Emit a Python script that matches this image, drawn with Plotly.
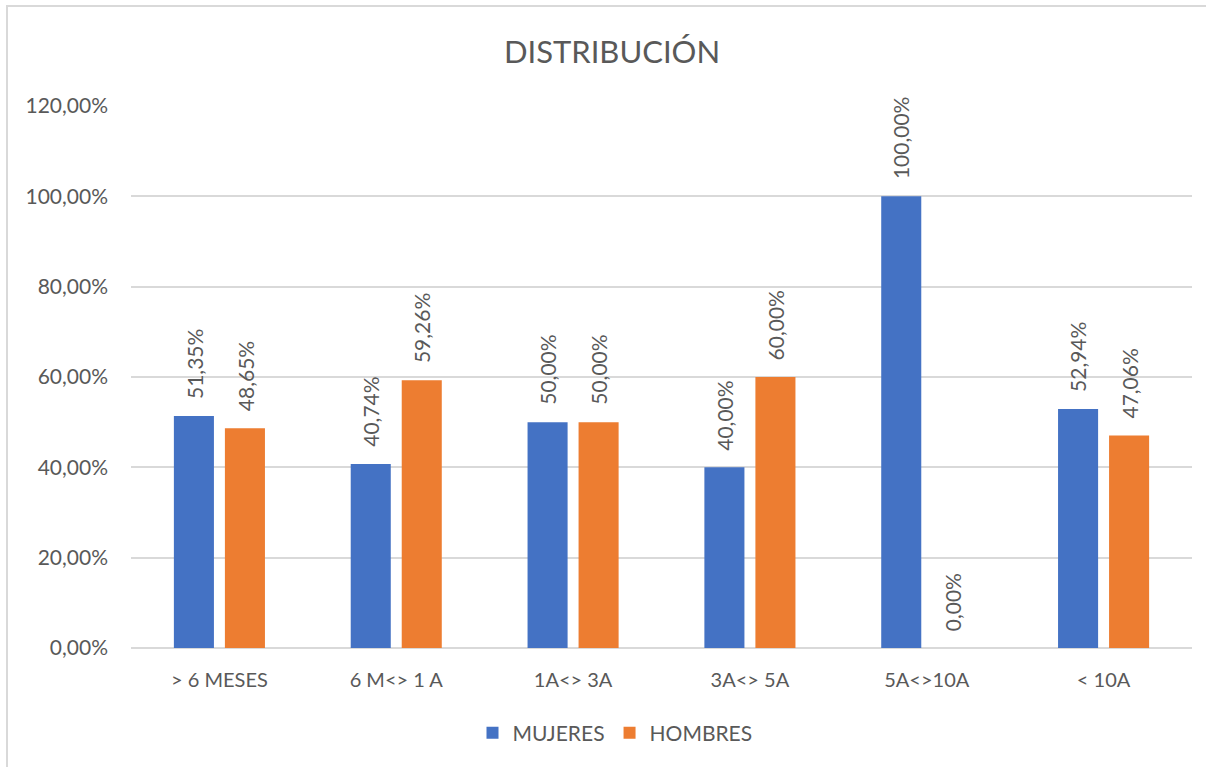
import plotly.graph_objects as go

categorias = ["> 6 MESES", "6 M<> 1 A", "1A<> 3A", "3A<> 5A", "5A<>10A", "< 10A"]
mujeres = [0.5135, 0.4074, 0.50, 0.40, 1.00, 0.5294]
hombres = [0.4865, 0.5926, 0.50, 0.60, 0.00, 0.4706]
ticks_y = [0, 0.2, 0.4, 0.6, 0.8, 1.0, 1.2]

AZUL = "#4472C4"
NARANJA = "#ED7D31"
GRIS = "#595959"
FUENTE = "Lato"

W, H = 1206, 767
ML, MR, MT, MB = 131, 14, 106, 119
PW, PH = W - ML - MR, H - MT - MB


def pct(v, dec=2):
    return f"{v * 100:.{dec}f}".replace(".", ",") + "%"


fig = go.Figure()
series = [("MUJERES", mujeres, AZUL, -25.5), ("HOMBRES", hombres, NARANJA, 25.5)]
for nombre, valores, color, desplaz in series:
    fig.add_trace(go.Bar(
        x=categorias, y=valores, name=nombre, marker_color=color,
        marker_line_width=0, cliponaxis=False,
    ))
    # vertical value labels above each bar
    for cat, v in zip(categorias, valores):
        fig.add_annotation(
            x=cat, y=v, xref="x", yref="y", text=pct(v), showarrow=False,
            textangle=-90, xanchor="center", yanchor="bottom",
            xshift=desplaz, yshift=15,
            font=dict(family=FUENTE, size=21, color=GRIS),
        )

fig.update_layout(
    width=W, height=H,
    margin=dict(l=ML, r=MR, t=MT, b=MB),
    paper_bgcolor="white", plot_bgcolor="white",
    barmode="group", bargap=0.423, bargroupgap=0.215,
    title=dict(text="DISTRIBUCIÓN", x=612 / W, xanchor="center",
               y=1 - 52 / H, yanchor="middle",
               font=dict(family=FUENTE, size=31, color=GRIS)),
    font=dict(family=FUENTE, size=21, color=GRIS),
    xaxis=dict(showline=False, ticks="", showgrid=False,
               ticklabelstandoff=18,
               tickfont=dict(family=FUENTE, size=20, color=GRIS)),
    yaxis=dict(range=[0, 1.2], tickvals=ticks_y,
               ticktext=[pct(v) for v in ticks_y],
               showgrid=True, gridcolor="#D9D9D9", gridwidth=1.5,
               zeroline=True, zerolinecolor="#D9D9D9", zerolinewidth=1.5,
               showline=False, ticks="", ticklabelstandoff=22,
               tickfont=dict(family=FUENTE, size=21, color=GRIS)),
    legend=dict(orientation="h", x=(615 - ML) / PW, xanchor="center",
                y=(H - 733 - MB) / PH, yanchor="middle",
                font=dict(family=FUENTE, size=21, color=GRIS),
                itemwidth=30, tracegroupgap=0),
    showlegend=True,
)

# chart frame (top and left edges visible)
fig.add_shape(type="rect", xref="paper", yref="paper",
              x0=(7 - ML) / PW, x1=(1230 - ML) / PW,
              y0=(H - 790 - MB) / PH, y1=(H - 6 - MB) / PH,
              line=dict(color="#D9D9D9", width=2), fillcolor="rgba(0,0,0,0)",
              layer="below")

fig.write_html("out.html")
